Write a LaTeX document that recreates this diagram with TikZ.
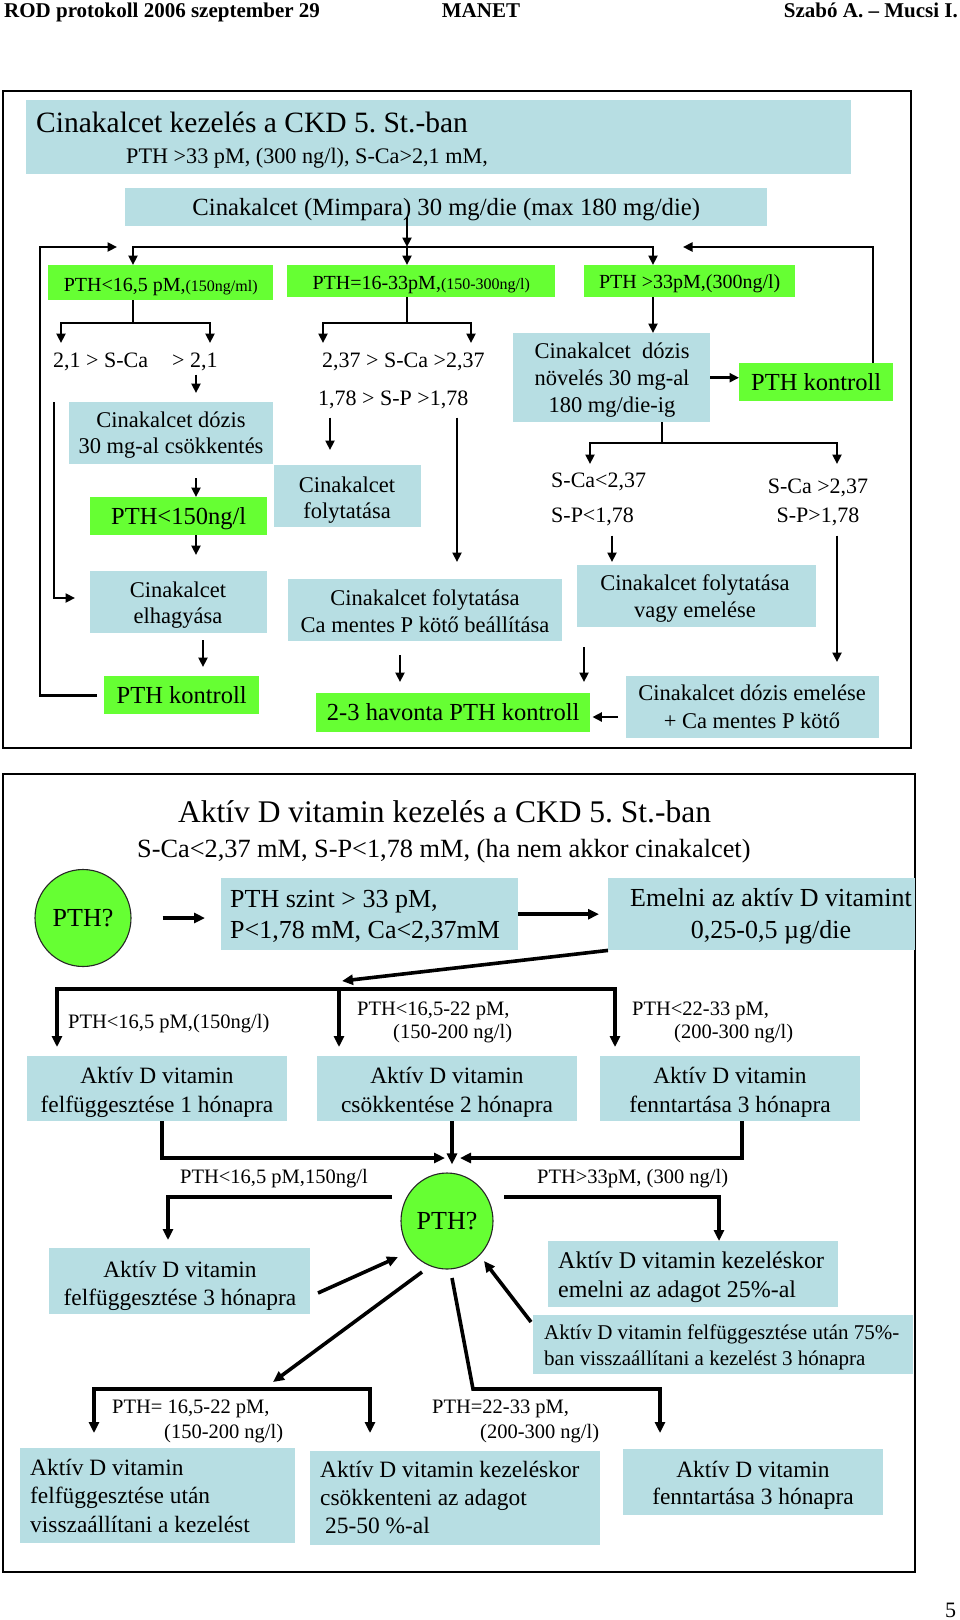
\documentclass[tikz,border=0pt]{standalone}
\usepackage{fontspec}
\setmainfont{Liberation Serif}
\usetikzlibrary{arrows.meta,calc,shapes.geometric}
\definecolor{boxblue}{RGB}{183,222,227}
\definecolor{boxgreen}{RGB}{102,255,51}
\newcommand\myfs[2]{\fontsize{#1}{#2}\selectfont}
\newcommand\zs{\rule{0pt}{24pt}}
\frenchspacing
\tikzset{
  bb/.style={fill=boxblue, inner sep=0pt, anchor=north west},
  gg/.style={fill=boxgreen, inner sep=0pt, anchor=north west},
  tx/.style={inner sep=0pt, anchor=north, yshift=24pt, align=center},
  txl/.style={inner sep=0pt, anchor=north west, yshift=24pt, align=left},
  lab/.style={inner sep=0pt, anchor=base west},
  frame/.style={line width=1.6pt},
  ln/.style={line width=2.9pt},
  ar/.style={line width=2.9pt, -{Triangle[length=9.5pt,width=9pt]}},
  ln2/.style={line width=3.6pt},
  ar2/.style={line width=3.6pt, -{Triangle[length=11pt,width=10pt]}},
  oval/.style={ellipse, fill=boxgreen, draw=black!85, line width=1.1pt, inner sep=0pt},
}
\begin{document}
\begin{tikzpicture}[x=1pt,y=-1pt]
\useasboundingbox (0,0) rectangle (960,1620);
% header
\node[lab, font=\bfseries\myfs{21}{24}] (hl) at (4,17) {ROD protokoll 2006 szeptember 29};
\node[lab, anchor=base, font=\bfseries\myfs{21}{24}] (hm) at (481,17) {MANET};
\node[lab, anchor=base east, font=\bfseries\myfs{21}{24}] (hr) at (958,17) {Szabó A. – Mucsi I.};

% ================= section 1 =================
\draw[frame] (3,91) rectangle (911,748);
\node[bb, minimum width=825pt, minimum height=74pt] (title) at (26,100) {};
\node[lab, font=\myfs{29.5}{32}] (titleT) at (36,132) {Cinakalcet kezelés a CKD 5. St.-ban};
\node[lab, font=\myfs{22.2}{26}] (titleS) at (126,163) {PTH >33 pM, (300 ng/l), S-Ca>2,1 mM,};
\node[bb, minimum width=642pt, minimum height=38pt, text height=16pt, text depth=0pt, font=\myfs{24.7}{28}] (mimp) at (125,188) {Cinakalcet (Mimpara) 30 mg/die (max 180 mg/die)};

\node[gg, minimum width=225pt, minimum height=35pt, text height=17pt, text depth=0pt, font=\myfs{20}{24}] (gA) at (48,265) {PTH<16,5 pM,{\myfs{16}{20}(150ng/ml)}};
\node[gg, minimum width=268pt, minimum height=32pt, text height=16pt, text depth=0pt, font=\myfs{20}{24}] (gB) at (287,265) {PTH=16-33pM,{\myfs{16}{20}(150-300ng/l)}};
\node[gg, minimum width=211pt, minimum height=32pt, text height=14pt, text depth=0pt, font=\myfs{20}{24}] (gC) at (584,265) {PTH >33pM,(300ng/l)};

% labels
\node[lab, font=\myfs{22}{26}] (ca21) at (53,367) {2,1 > S-Ca};
\node[lab, font=\myfs{22}{26}] (gt21) at (172,367) {> 2,1};
\node[lab, font=\myfs{22}{26}] (sca237) at (322,367) {2,37 > S-Ca >2,37};
\node[lab, font=\myfs{22}{26}] (sp178) at (318,405) {1,78 > S-P >1,78};
\node[lab, font=\myfs{22}{26}] (scal) at (551,487) {S-Ca<2,37};
\node[lab, font=\myfs{22}{26}] (spl) at (551,522) {S-P<1,78};
\node[lab, anchor=base, font=\myfs{22}{26}] (scag) at (818,493) {S-Ca >2,37};
\node[lab, anchor=base, font=\myfs{22}{26}] (spg) at (818,522) {S-P>1,78};

% left column boxes
\node[bb, minimum width=204pt, minimum height=62pt] (dec) at (69,402) {};
\node[tx, font=\myfs{22.5}{26}] (decT) at (171,427) {\zs Cinakalcet dózis\\30 mg-al csökkentés};
\node[gg, minimum width=177pt, minimum height=38pt, text height=16pt, text depth=0pt, font=\myfs{24.5}{28}] (gP150) at (90,497) {PTH<150ng/l};
\node[bb, minimum width=177pt, minimum height=62pt] (elh) at (90,571) {};
\node[tx, font=\myfs{22.5}{26}] (elhT) at (178,597) {\zs Cinakalcet\\elhagyása};
\node[gg, minimum width=155pt, minimum height=38pt, text height=16pt, text depth=0pt, font=\myfs{24.5}{28}] (gK1) at (104,676) {PTH kontroll};

% middle column boxes
\node[bb, minimum width=147pt, minimum height=62pt] (fol) at (274,465) {};
\node[tx, font=\myfs{22.5}{26}] (folT) at (347,492) {\zs Cinakalcet\\folytatása};
\node[bb, minimum width=274pt, minimum height=62pt] (cfP) at (288,579) {};
\node[tx, font=\myfs{22.5}{27}] (cfPT) at (425,605) {\zs Cinakalcet folytatása\\Ca mentes P kötő beállítása};
\node[gg, minimum width=274pt, minimum height=39pt, text height=15pt, text depth=0pt, font=\myfs{24.5}{28}] (g23) at (316,693) {2-3 havonta PTH kontroll};

% right column boxes
\node[bb, minimum width=197pt, minimum height=89pt] (inc) at (513,333) {};
\node[tx, font=\myfs{22.5}{27}] (incT) at (612,358) {\zs Cinakalcet\ \ dózis\\növelés 30 mg-al\\180 mg/die-ig};
\node[gg, minimum width=154pt, minimum height=38pt, text height=16pt, text depth=0pt, font=\myfs{24.5}{28}] (gK2) at (739,363) {PTH kontroll};
\node[bb, minimum width=239pt, minimum height=62pt] (cfe) at (577,565) {};
\node[tx, font=\myfs{22.5}{27}] (cfeT) at (695,590) {\zs Cinakalcet folytatása\\vagy emelése};
\node[bb, minimum width=253pt, minimum height=62pt] (cde) at (626,676) {};
\node[tx, font=\myfs{22.5}{28}] (cdeT) at (752,700) {\zs Cinakalcet dózis emelése\\+ Ca mentes P kötő};

% connectors section 1
\coordinate (j0) at (407,247);
\coordinate (hL) at (133,247);
\coordinate (hR) at (653,247);
\draw[ar] ($(mimp.south -| j0)+(0,-9)$) -- (j0);
\draw[ar] (j0) -| (hL |- gA.north);
\draw[ar] (j0) -| (hR |- gC.north);
\draw[ar] (j0) -- (j0 |- gB.north);
\coordinate (fbL) at (40,247);
\coordinate (fbLt) at (117,247);
\draw[ar] ([xshift=-7pt]gK1.west) -| (fbL) -- (fbLt);
\coordinate (fbR) at (873,247);
\coordinate (fbRt) at (683,247);
\draw[ar] (gK2.north -| fbR) |- (fbRt);

\coordinate (a0) at (133,323);
\coordinate (a1t) at (61,343);
\coordinate (a2t) at (210,343);
\draw[ar] (gA.south -| a0) -- (a0) -| (a1t);
\draw[ar] (a0) -| (a2t);
\coordinate (xd) at (196,0);
\draw[ar, shorten <=4pt, shorten >=9pt] (gt21.south -| xd) -- (xd |- dec.north);
\coordinate (lA0) at (54,402);
\coordinate (lA1) at (75,598);
\draw[ar] (lA0) |- (lA1);
\draw[ar, shorten <=14pt] (dec.south -| xd) -- (xd |- gP150.north);
\draw[ar, shorten >=16pt] (gP150.south -| xd) -- (xd |- elh.north);
\coordinate (xe) at (203,0);
\draw[ar, shorten <=7pt, shorten >=9pt] (elh.south -| xe) -- (xe |- gK1.north);

\coordinate (b0) at (407,323);
\coordinate (m1t) at (323,343);
\coordinate (m2t) at (471,343);
\draw[ar] (gB.south -| b0) -- (b0) -| (m1t);
\draw[ar] (b0) -| (m2t);
\coordinate (xf) at (330,0);
\draw[ar, shorten <=9pt, shorten >=15pt] (sp178.south -| xf) -- (xf |- fol.north);
\coordinate (xg) at (457,0);
\draw[ar, shorten <=9pt, shorten >=17pt] (sp178.south -| xg) -- (xg |- cfP.north);
\coordinate (xh) at (400,0);
\draw[ar, shorten <=14pt, shorten >=11pt] (cfP.south -| xh) -- (xh |- g23.north);

\draw[ar] (hR |- gC.south) -- (hR |- inc.north);
\draw[ar] (inc.east) -- (inc.east -| gK2.west);
\coordinate (c0) at (662,443);
\coordinate (r1t) at (590,464);
\coordinate (r2t) at (837,464);
\draw[ar] (inc.south -| c0) -- (c0) -| (r1t);
\draw[ar] (c0) -| (r2t);
\coordinate (xi) at (612,0);
\draw[ar, shorten <=10pt, shorten >=3pt] (spl.south -| xi) -- (xi |- cfe.north);
\coordinate (xj) at (837,0);
\draw[ar, shorten <=10pt, shorten >=14pt] (spg.south -| xj) -- (xj |- cde.north);
\coordinate (xk) at (584,0);
\draw[ar, shorten <=20pt, shorten >=11pt] (cfe.south -| xk) -- (xk |- g23.north);
\coordinate (yl) at (0,717);
\draw[ar, shorten <=8pt, shorten >=2pt] (cde.west |- yl) -- (g23.east |- yl);

% ================= section 2 =================
\draw[frame] (3,774) rectangle (915,1572);
\node[lab, font=\myfs{31.5}{34}] (t2) at (178,822) {Aktív D vitamin kezelés a CKD 5. St.-ban};
\node[lab, font=\myfs{26.3}{30}] (s2) at (137,857) {S-Ca<2,37 mM, S-P<1,78 mM, (ha nem akkor cinakalcet)};
\node[oval, minimum width=96pt, minimum height=97pt, font=\myfs{26}{30}] (pth1) at (83,918) {PTH?};
\node[bb, minimum width=297pt, minimum height=72pt] (pts) at (221,878) {};
\node[txl, font=\myfs{26}{31}] (ptsT) at (230,907) {\zs PTH szint > 33 pM,\\P<1,78 mM, Ca<2,37mM};
\node[bb, minimum width=307pt, minimum height=72pt] (emel) at (608,878) {};
\node[tx, font=\myfs{26}{32}] (emelT) at (771,906) {\zs Emelni az aktív D vitamint\\0,25-0,5 µg/die};

\node[lab, font=\myfs{20.5}{24}] (l1) at (68,1028) {PTH<16,5 pM,(150ng/l)};
\node[lab, font=\myfs{20.5}{24}] (l2a) at (357,1015) {PTH<16,5-22 pM,};
\node[lab, font=\myfs{20.5}{24}] (l2b) at (393,1038) {(150-200 ng/l)};
\node[lab, font=\myfs{20.5}{24}] (l3a) at (632,1015) {PTH<22-33 pM,};
\node[lab, font=\myfs{20.5}{24}] (l3b) at (674,1038) {(200-300 ng/l)};

\node[bb, minimum width=260pt, minimum height=65pt] (b1) at (27,1056) {};
\node[tx, font=\myfs{23.4}{29}] (b1T) at (157,1083) {\zs Aktív D vitamin\\felfüggesztése 1 hónapra};
\node[bb, minimum width=260pt, minimum height=65pt] (b2) at (317,1056) {};
\node[tx, font=\myfs{23.4}{29}] (b2T) at (447,1083) {\zs Aktív D vitamin\\csökkentése 2 hónapra};
\node[bb, minimum width=260pt, minimum height=65pt] (b3) at (600,1056) {};
\node[tx, font=\myfs{23.4}{29}] (b3T) at (730,1083) {\zs Aktív D vitamin\\fenntartása 3 hónapra};

\node[oval, minimum width=92pt, minimum height=96pt, font=\myfs{26}{30}] (pth2) at (447,1221) {PTH?};
\node[lab, font=\myfs{20.5}{24}] (l4) at (180,1183) {PTH<16,5 pM,150ng/l};
\node[lab, font=\myfs{20.5}{24}] (l5) at (537,1183) {PTH>33pM, (300 ng/l)};

\node[bb, minimum width=261pt, minimum height=66pt] (s3) at (49,1248) {};
\node[tx, font=\myfs{23.4}{28}] (s3T) at (180,1277) {\zs Aktív D vitamin\\felfüggesztése 3 hónapra};
\node[bb, minimum width=290pt, minimum height=66pt] (up25) at (548,1241) {};
\node[txl, font=\myfs{24}{29}] (up25T) at (558,1268) {\zs Aktív D vitamin kezeléskor\\emelni az adagot 25\%-al};
\node[bb, minimum width=380pt, minimum height=59pt] (up75) at (533,1315) {};
\node[txl, font=\myfs{21}{26}] (up75T) at (544,1339) {\zs Aktív D vitamin felfüggesztése után 75\%-\\ban visszaállítani a kezelést 3 hónapra};

\node[lab, font=\myfs{20.5}{24}] (l6a) at (112,1413) {PTH= 16,5-22 pM,};
\node[lab, font=\myfs{20.5}{24}] (l6b) at (164,1438) {(150-200 ng/l)};
\node[lab, font=\myfs{20.5}{24}] (l7a) at (432,1413) {PTH=22-33 pM,};
\node[lab, font=\myfs{20.5}{24}] (l7b) at (480,1438) {(200-300 ng/l)};

\node[bb, minimum width=275pt, minimum height=95pt] (bL) at (20,1448) {};
\node[txl, font=\myfs{23.4}{28.5}] (bLT) at (30,1475) {\zs Aktív D vitamin\\felfüggesztése után\\visszaállítani a kezelést};
\node[bb, minimum width=290pt, minimum height=94pt] (bM) at (310,1451) {};
\node[txl, font=\myfs{23.4}{28}] (bMT) at (320,1477) {\zs Aktív D vitamin kezeléskor\\csökkenteni az adagot\\\hspace*{5pt}25-50 \%-al};
\node[bb, minimum width=260pt, minimum height=66pt] (bR) at (623,1449) {};
\node[tx, font=\myfs{23.4}{27}] (bRT) at (753,1477) {\zs Aktív D vitamin\\fenntartása 3 hónapra};

\node[lab, font=\myfs{22}{24}] (pg) at (945,1617) {5};

% connectors section 2
\draw[ar2, shorten <=31pt, shorten >=16pt] (pth1.east) -- (pth1.east -| pts.west);
\draw[ar2, shorten >=9pt] (pts.east) -- (emel.west);
\coordinate (dj) at (342,981);
\draw[ar2] (emel.south west) -- (dj);
\coordinate (h2L) at (57,989);
\coordinate (h2M) at (339,989);
\coordinate (h2R) at (615,989);
\draw[ar2, shorten >=9pt] (h2M) -| (h2L |- b1.north);
\draw[ar2, shorten >=9pt] (h2M) -| (h2R |- b3.north);
\draw[ar2, shorten >=9pt] (h2M) -- (h2M |- b2.north);

\coordinate (c1) at (162,1158);
\coordinate (m1) at (445,1158);
\coordinate (c3) at (742,1158);
\coordinate (m3) at (460,1158);
\coordinate (m2x) at (452,0);
\draw[ar2] (b1.south -| c1) |- (m1);
\draw[ar2] (b3.south -| c3) |- (m3);
\draw[ar2, shorten >=8pt] (b2.south -| m2x) -- (m2x |- pth2.north);

\coordinate (L2a) at (392,1197);
\coordinate (xs3) at (168,0);
\draw[ar2, shorten >=8pt] (L2a) -| (xs3 |- s3.north);
\coordinate (R2a) at (504,1197);
\coordinate (xu) at (719,0);
\draw[ar2] (R2a) -| (xu |- up25.north);
\coordinate (s3o) at (318,1293);
\coordinate (pthA) at (398,1257);
\draw[ar2] (s3o) -- (pthA);
\coordinate (pthB) at (422,1272);
\coordinate (dj2) at (273,1382);
\draw[ar2] (pthB) -- (dj2);
\coordinate (pthC) at (452,1278);
\coordinate (kk) at (473,1389);
\coordinate (xbR) at (660,0);
\draw[ar2, shorten >=16pt] (pthC) -- (kk) -| (xbR |- bR.north);
\coordinate (h3M) at (232,1389);
\coordinate (h3L) at (94,1389);
\coordinate (h3R) at (370,1389);
\draw[ar2, shorten >=15pt] (h3M) -| (h3L |- bL.north);
\draw[ar2, shorten >=18pt] (h3M) -| (h3R |- bM.north);
\coordinate (u75o) at (531,1322);
\coordinate (pthD) at (484,1261);
\draw[ar2] (u75o) -- (pthD);
\end{tikzpicture}
\end{document}
